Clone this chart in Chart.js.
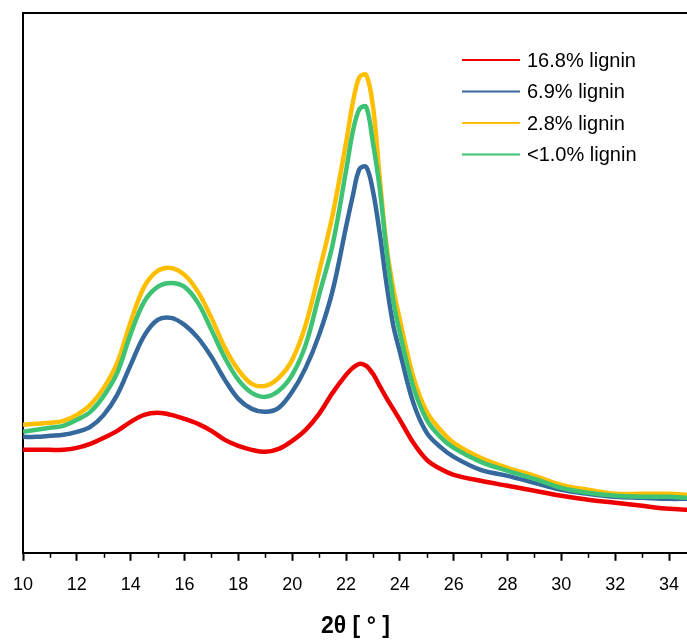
<!DOCTYPE html>
<html>
<head>
<meta charset="utf-8">
<script src="https://cdn.jsdelivr.net/npm/chart.js@4/dist/chart.umd.min.js"></script>
<style>
  html, body { margin: 0; padding: 0; background: #fff; overflow: hidden; }
  #wrap { width: 692px; height: 643px; position: relative; }
</style>
</head>
<body>
<div id="wrap"><canvas id="c"></canvas></div>
<script>
// 2-theta positions (deg) and intensities (a.u.)
const twoTheta = [10, 10.5, 11, 11.5, 12, 12.5, 13, 13.5, 14, 14.5, 15, 15.5, 16, 16.5, 17, 17.5,
    18, 18.5, 19, 19.5, 20, 20.5, 21, 21.5, 22, 22.25, 22.5, 22.75, 23, 23.25, 23.5, 23.75,
    24, 24.5, 25, 25.5, 26, 27, 28, 29, 30, 31, 32, 33, 34, 34.7];

const lignin168 = [103, 103, 103, 103, 105, 109, 115, 122, 131, 138, 140, 138, 134, 129, 122, 113,
    107, 103, 101, 104, 112, 123, 139, 160, 178, 185, 189, 187, 179, 167, 155, 144,
    133, 110, 93, 84, 78, 72, 67, 62, 57, 53, 50, 47, 44, 43];
const lignin69 = [116, 116, 117, 118, 121, 126, 138, 158, 188, 217, 233, 235, 228, 215, 196, 173,
    154, 144, 141, 145, 161, 185, 218, 262, 326, 357, 384, 386, 362, 320, 270, 228,
    201, 150, 120, 106, 96, 83, 77, 70, 63, 59, 56, 55, 54, 54];
const lignin28 = [128, 129, 130, 132, 138, 148, 165, 190, 231, 266, 282, 285, 278, 261, 235, 205,
    183, 169, 167, 175, 193, 228, 281, 338, 410, 450, 476, 478, 447, 376, 308, 265,
    233, 176, 141, 123, 110, 95, 85, 77, 68, 63, 59, 59, 59, 58];
const lignin10 = [121, 123, 125, 127, 133, 141, 157, 180, 219, 251, 266, 270, 266, 250, 223, 195,
    173, 160, 156, 162, 178, 208, 258, 308, 382, 421, 444, 446, 410, 365, 303, 253,
    220, 166, 133, 116, 105, 91, 82, 74, 65, 60, 57, 56, 56, 55];

const seriesLabels = ['16.8% lignin', '6.9% lignin', '2.8% lignin', '<1.0% lignin'];
const seriesColors = ['#ee0000', '#35689d', '#ffbf00', '#3ec273'];
const seriesData = [lignin168, lignin69, lignin28, lignin10];
const drawOrder = [0, 3, 2, 1];

const xMin = 10;
const xMax = 34.7;
const fontFamily = 'Arial, "Liberation Sans", sans-serif';

function toPoints(values) {
    return values.map((v, i) => ({ x: twoTheta[i], y: v }));
}

// frame, minor ticks and in-plot legend
const extras = {
    id: 'extras',
    afterDraw(chart) {
        const { ctx, chartArea } = chart;
        const xs = chart.scales.x;
        ctx.save();
        ctx.strokeStyle = '#000';
        ctx.lineWidth = 2;
        ctx.beginPath();
        ctx.moveTo(chartArea.left - 1, chartArea.top);
        ctx.lineTo(chart.width, chartArea.top);
        ctx.stroke();

        // minor ticks on odd degrees
        ctx.lineWidth = 1.5;
        for (let v = 11; v < xMax; v += 2) {
            const px = Math.round(xs.getPixelForValue(v)) + 0.5;
            ctx.beginPath();
            ctx.moveTo(px, chartArea.bottom);
            ctx.lineTo(px, chartArea.bottom + 5);
            ctx.stroke();
        }

        // legend
        ctx.font = '20px ' + fontFamily;
        ctx.textBaseline = 'middle';
        ctx.fillStyle = '#000';
        seriesLabels.forEach((label, i) => {
            const y = 60 + i * 31.5;
            ctx.strokeStyle = seriesColors[i];
            ctx.lineWidth = 2;
            ctx.beginPath();
            ctx.moveTo(462, y);
            ctx.lineTo(520, y);
            ctx.stroke();
            ctx.fillText(label, 527, y + 1);
        });
        ctx.restore();
    },
};

new Chart(document.getElementById('c'), {
    type: 'line',
    data: {
        datasets: seriesData.map((values, i) => ({
            label: seriesLabels[i],
            data: toPoints(values),
            borderColor: seriesColors[i],
            backgroundColor: seriesColors[i],
            borderWidth: 4.5,
            pointRadius: 0,
            tension: 0.35,
            order: drawOrder[i],
        })),
    },
    options: {
        responsive: true,
        maintainAspectRatio: false,
        animation: false,
        layout: { padding: { left: 13, right: 0, top: 13, bottom: 0 } },
        plugins: {
            legend: { display: false },
            tooltip: { enabled: false },
        },
        scales: {
            x: {
                type: 'linear',
                min: xMin,
                max: xMax,
                grid: { display: true, drawOnChartArea: false, tickLength: 8, tickWidth: 2, tickColor: '#000' },
                border: { display: true, color: '#000', width: 2 },
                ticks: {
                    stepSize: 2,
                    includeBounds: false,
                    color: '#000',
                    padding: 13,
                    maxRotation: 0,
                    font: { family: fontFamily, size: 18 },
                },
                title: {
                    display: true,
                    text: '2θ [ ° ]',
                    color: '#000',
                    padding: { top: 4, bottom: 3 },
                    font: { family: fontFamily, size: 23, weight: 'bold' },
                },
            },
            y: {
                min: 0,
                max: 540,
                grid: { display: false },
                border: { display: true, color: '#000', width: 2 },
                ticks: { display: false },
            },
        },
    },
    plugins: [extras],
});
</script>
</body>
</html>
